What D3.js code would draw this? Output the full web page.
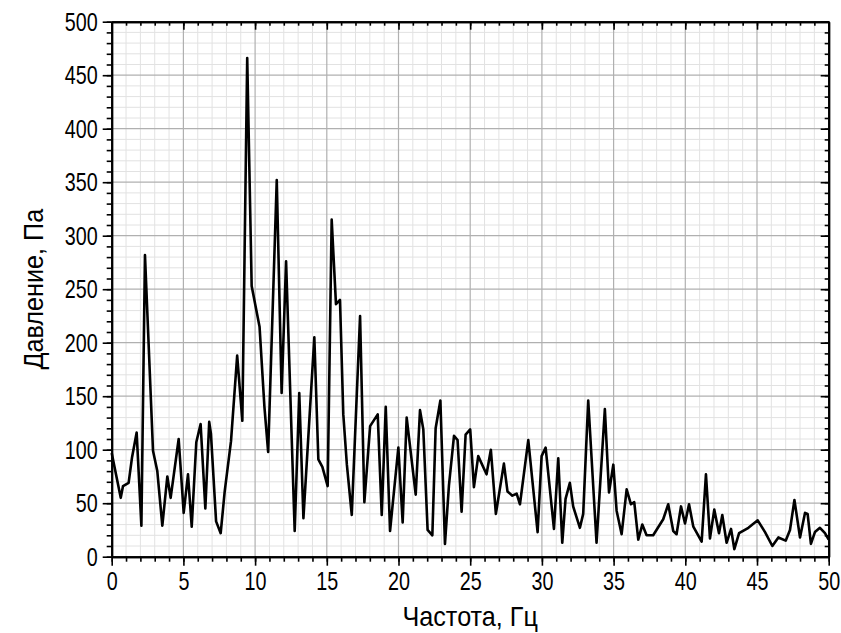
<!DOCTYPE html>
<html><head><meta charset="utf-8">
<script src="https://cdn.jsdelivr.net/npm/d3@7"></script>
<style>body{margin:0;background:#fff}svg{display:block}</style>
</head><body>
<svg id="chart" width="841" height="633"></svg>
<script>
const freq = [0,0.63,0.79,1.18,1.42,1.74,2.07,2.32,2.88,3.18,3.53,3.88,4.11,4.67,5.02,5.32,5.58,5.9,6.2,6.53,6.8,6.92,7.28,7.6,7.88,8.32,8.75,9.11,9.45,9.76,10.31,10.65,10.91,11.51,11.85,12.16,12.76,13.08,13.37,14.13,14.41,14.69,15.06,15.34,15.64,15.92,16.15,16.4,16.74,17.32,17.62,18.02,18.55,18.83,19.11,19.41,19.99,20.29,20.57,21.2,21.5,21.73,22.03,22.36,22.59,22.92,23.24,23.52,23.87,24.12,24.4,24.68,25.0,25.26,25.56,26.14,26.44,26.79,27.35,27.6,27.94,28.24,28.47,29.05,29.7,29.98,30.26,30.84,31.14,31.42,31.65,31.95,32.18,32.65,32.88,33.23,33.81,34.39,34.68,34.98,35.21,35.56,35.91,36.21,36.44,36.72,37.0,37.3,37.76,38.46,38.81,39.16,39.39,39.7,39.98,40.26,40.56,41.14,41.44,41.72,42.02,42.35,42.58,42.88,43.19,43.42,43.75,44.4,45.05,45.56,46.07,46.49,47.0,47.3,47.61,48.0,48.35,48.53,48.76,49.04,49.39,49.74,50.0];
const pressure = [97,55,66,69,93,116,29,282,99,80,29,75,55,110,41,77,28,107,124,45,126,115,33,22,61,108,188,127,466,253,215,140,98,352,153,276,24,153,36,205,91,84,66,315,236,240,133,86,39,225,51,122,133,39,140,24,102,32,130,58,137,119,25,20,120,146,12,67,113,109,42,114,119,65,94,77,100,40,87,61,57,59,49,109,23,94,102,26,92,13,54,69,47,27,40,146,13,138,60,86,43,21,63,49,51,16,30,20,20,35,49,24,21,47,31,49,28,14,77,17,44,22,39,13,26,7,22,27,34,23,10,18,15,25,53,18,41,40,12,23,27,22,16];
const xTicks = [0,5,10,15,20,25,30,35,40,45,50];
const yTicks = [0,50,100,150,200,250,300,350,400,450,500];
const xMinor = d3.range(0,51,1);
const yMinor = d3.range(0,501,10);
const xTitle = "Частота, Гц";
const yTitle = "Давление, Па";

const L = 111.7, T = 21.7, W = 717, H = 535;
const svg = d3.select("#chart");
const x = d3.scaleLinear().domain([0,50]).range([L, L+W]);
const y = d3.scaleLinear().domain([0,500]).range([T+H, T]);

const grid = svg.append("g");
grid.selectAll(".vmin").data(xMinor.filter(d=>d%5!==0)).join("line")
  .attr("x1",d=>x(d)).attr("x2",d=>x(d)).attr("y1",T).attr("y2",T+H)
  .attr("stroke","#e2e2e2").attr("stroke-width",1);
grid.selectAll(".hmin").data(yMinor.filter(d=>d%50!==0)).join("line")
  .attr("y1",d=>y(d)).attr("y2",d=>y(d)).attr("x1",L).attr("x2",L+W)
  .attr("stroke","#e2e2e2").attr("stroke-width",1);
grid.selectAll(".vmaj").data(xTicks).join("line")
  .attr("x1",d=>x(d)).attr("x2",d=>x(d)).attr("y1",T).attr("y2",T+H)
  .attr("stroke","#b0b0b0").attr("stroke-width",1.2);
grid.selectAll(".hmaj").data(yTicks).join("line")
  .attr("y1",d=>y(d)).attr("y2",d=>y(d)).attr("x1",L).attr("x2",L+W)
  .attr("stroke","#b0b0b0").attr("stroke-width",1.2);

const pts = freq.map((f,i)=>[f, pressure[i]]);
svg.append("path").datum(pts)
  .attr("fill","none").attr("stroke","#000").attr("stroke-width",2.6)
  .attr("stroke-linejoin","round")
  .attr("d", d3.line().x(d=>x(d[0])).y(d=>y(d[1])));

function styleAxis(g){
  g.select(".domain").attr("stroke","#000").attr("stroke-width",2);
  g.selectAll(".tick line").attr("stroke","#000").attr("stroke-width",1.6);
}
const SX = 0.76, FS = 26;
// bottom minor
svg.append("g").attr("transform",`translate(0,${T+H})`)
  .call(d3.axisBottom(x).tickValues(xMinor).tickSize(5).tickFormat("").tickSizeOuter(0))
  .call(styleAxis);
const xb = svg.append("g").attr("transform",`translate(0,${T+H})`)
  .call(d3.axisBottom(x).tickValues(xTicks).tickSize(9).tickPadding(6).tickSizeOuter(0))
  .call(styleAxis);
xb.selectAll(".tick text").attr("font-family","Liberation Sans, Arial, sans-serif")
  .attr("font-size",FS).attr("fill","#000").attr("transform",`scale(${SX},1)`);
// top
svg.append("g").attr("transform",`translate(0,${T})`)
  .call(d3.axisBottom(x).tickValues(xMinor).tickSize(4).tickFormat("").tickSizeOuter(0)).call(styleAxis);
svg.append("g").attr("transform",`translate(0,${T})`)
  .call(d3.axisBottom(x).tickValues(xTicks).tickSize(8).tickFormat("").tickSizeOuter(0)).call(styleAxis);
// left
svg.append("g").attr("transform",`translate(${L},0)`)
  .call(d3.axisLeft(y).tickValues(yMinor).tickSize(5).tickFormat("").tickSizeOuter(0)).call(styleAxis);
const yl = svg.append("g").attr("transform",`translate(${L},0)`)
  .call(d3.axisLeft(y).tickValues(yTicks).tickSize(9).tickPadding(5).tickSizeOuter(0))
  .call(styleAxis);
yl.selectAll(".tick text").attr("font-family","Liberation Sans, Arial, sans-serif")
  .attr("font-size",FS).attr("fill","#000").attr("x",-14/SX).attr("transform",`scale(${SX},1)`);
// right
svg.append("g").attr("transform",`translate(${L+W},0)`)
  .call(d3.axisLeft(y).tickValues(yMinor).tickSize(4).tickFormat("").tickSizeOuter(0)).call(styleAxis);
svg.append("g").attr("transform",`translate(${L+W},0)`)
  .call(d3.axisLeft(y).tickValues(yTicks).tickSize(8).tickFormat("").tickSizeOuter(0)).call(styleAxis);

svg.append("text").text(xTitle)
  .attr("font-family","Liberation Sans, Arial, sans-serif").attr("font-size",28)
  .attr("text-anchor","middle")
  .attr("transform",`translate(${L+W/2},626) scale(0.9,1)`);
svg.append("text").text(yTitle)
  .attr("font-family","Liberation Sans, Arial, sans-serif").attr("font-size",28)
  .attr("text-anchor","middle")
  .attr("transform",`translate(43,${T+H/2}) rotate(-90) scale(0.9,1)`);
</script>
</body></html>
